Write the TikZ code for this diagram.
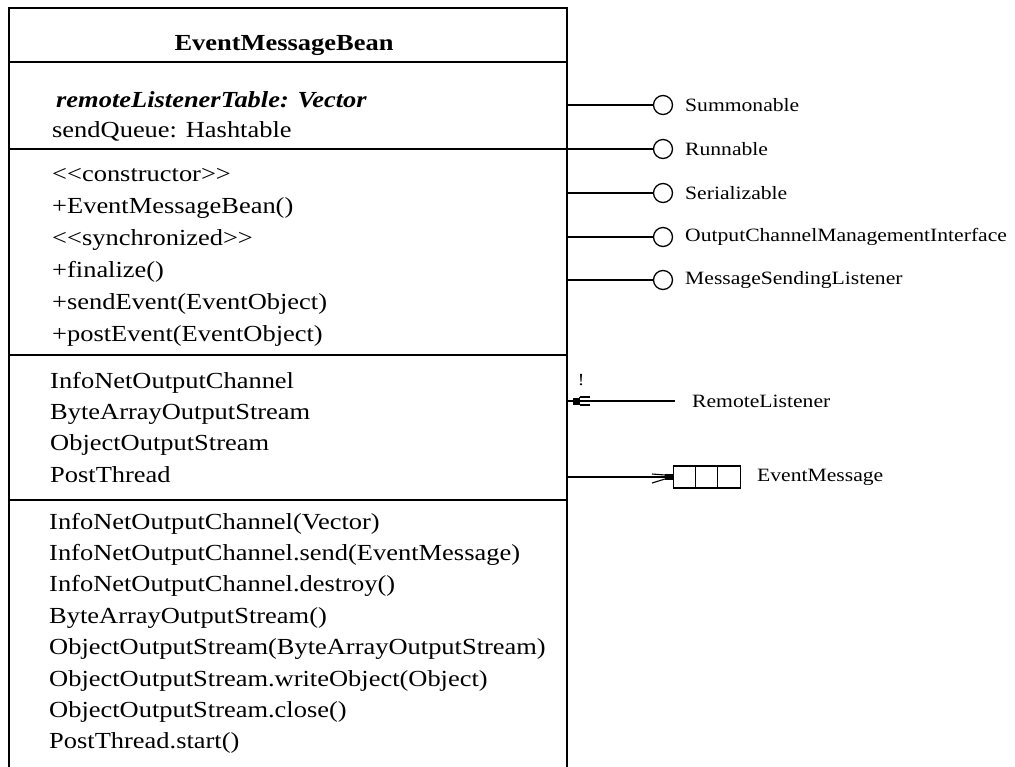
\documentclass[tikz,border=0pt]{standalone}
\usepackage{fontspec}
% widened serif family, without TeX ligature mapping so that << stays as typed
\newfontfamily\umlserif{Liberation Serif}[FakeStretch=1.15]
\begin{document}
\begin{tikzpicture}[x=1pt,y=-1pt,
  classbox/.style={draw, line width=1.6pt, minimum width=558pt, minimum height=763pt,
                   anchor=north west, inner sep=0pt},
  divider/.style={line width=1.6pt},
  member/.style={anchor=base west, inner sep=0pt, font=\umlserif\fontsize{23}{28}\selectfont},
  conn/.style={line width=1.3pt},
  lollipop/.style={draw, circle, line width=1.3pt, minimum size=19pt, inner sep=0pt},
  extname/.style={anchor=west, inner sep=0pt, font=\umlserif\fontsize{18.8}{22}\selectfont},
  cell/.style={draw, line width=1.3pt, minimum width=67pt, minimum height=22pt, inner sep=0pt}
]
\useasboundingbox (0,0) rectangle (1015,766);

% class box and its compartments
\node[classbox] (cls) at (8,7) {};
\foreach \yy in {62,149,355,500}
  \draw[divider] (cls.west |- 0,\yy) -- (cls.east |- 0,\yy);

\node[anchor=base, inner sep=0pt, font=\umlserif\fontsize{23}{28}\selectfont\bfseries]
  (title) at (284,50) {EventMessageBean};

% attributes
\node[member, font=\umlserif\fontsize{23}{28}\selectfont\bfseries\itshape] (a1) at (56,107) {remoteListenerTable: Vector};
\node[member] (a2) at (52,137) {sendQueue: Hashtable};

% operations
\node[member] (o1) at (52,181) {<<constructor>>};
\node[member] (o2) at (52,213) {+EventMessageBean()};
\node[member] (o3) at (52,245) {<<synchronized>>};
\node[member] (o4) at (52,277) {+finalize()};
\node[member] (o5) at (52,309) {+sendEvent(EventObject)};
\node[member] (o6) at (52,341) {+postEvent(EventObject)};

% used classes
\node[member] (u1) at (50,388) {InfoNetOutputChannel};
\node[member] (u2) at (50,419) {ByteArrayOutputStream};
\node[member] (u3) at (50,450) {ObjectOutputStream};
\node[member] (u4) at (50,482) {PostThread};

% used operations
\node[member] (m1) at (49,529) {InfoNetOutputChannel(Vector)};
\node[member] (m2) at (49,560) {InfoNetOutputChannel.send(EventMessage)};
\node[member] (m3) at (49,591.5) {InfoNetOutputChannel.destroy()};
\node[member] (m4) at (49,623) {ByteArrayOutputStream()};
\node[member] (m5) at (49,654.5) {ObjectOutputStream(ByteArrayOutputStream)};
\node[member] (m6) at (49,686) {ObjectOutputStream.writeObject(Object)};
\node[member] (m7) at (49,717) {ObjectOutputStream.close()};
\node[member] (m8) at (49,748) {PostThread.start()};

% provided interfaces
\foreach \nm/\yy/\txt in {i1/105/Summonable, i2/149/Runnable, i3/193/Serializable,
    i4/237/OutputChannelManagementInterface, i5/280/MessageSendingListener} {
  \node[lollipop] (\nm) at (663,\yy) {};
  \node[extname] (\nm t) at (685,\yy) {\txt};
  \draw[conn] (cls.east |- \nm) -- (\nm);
}

% incoming signal from RemoteListener
\node[extname] (rl) at (692,401) {RemoteListener};
\coordinate (rlend) at (675,401);
\coordinate (rlin) at (cls.east |- rlend);
\draw[conn] (rlin) -- (rlend);
\fill ([xshift=5pt,yshift=-3.5pt]rlin) rectangle ([xshift=12pt,yshift=3.5pt]rlin);
\draw[line width=1.1pt] ([xshift=12pt,yshift=-4pt]rlin) -- ([xshift=22pt,yshift=-4pt]rlin)
                        ([xshift=12pt,yshift=4pt]rlin) -- ([xshift=22pt,yshift=4pt]rlin)
                        ([xshift=12pt,yshift=-4pt]rlin) -- ([xshift=12pt,yshift=4pt]rlin);
\node[inner sep=0pt, font=\umlserif\fontsize{17}{20}\selectfont] (bang) at (581,380) {!};

% outgoing message queue
\node[cell, anchor=west] (queue) at (673,477) {};
\draw[conn] ([xshift=22.3pt]queue.north west) -- ([xshift=22.3pt]queue.south west)
            ([xshift=44.6pt]queue.north west) -- ([xshift=44.6pt]queue.south west);
\node[extname] (qt) at (757,477) {EventMessage};
\draw[conn] (cls.east |- queue.west) -- (queue.west);
\fill ([xshift=-8pt,yshift=-3pt]queue.west) rectangle ([xshift=0pt,yshift=3pt]queue.west);
\draw[line width=1.1pt] ([xshift=-21pt,yshift=-6pt]queue.west) -- ([xshift=-8pt,yshift=-2pt]queue.west)
                        ([xshift=-21pt,yshift=3pt]queue.west) -- ([xshift=-8pt,yshift=2pt]queue.west);
\end{tikzpicture}
\end{document}
